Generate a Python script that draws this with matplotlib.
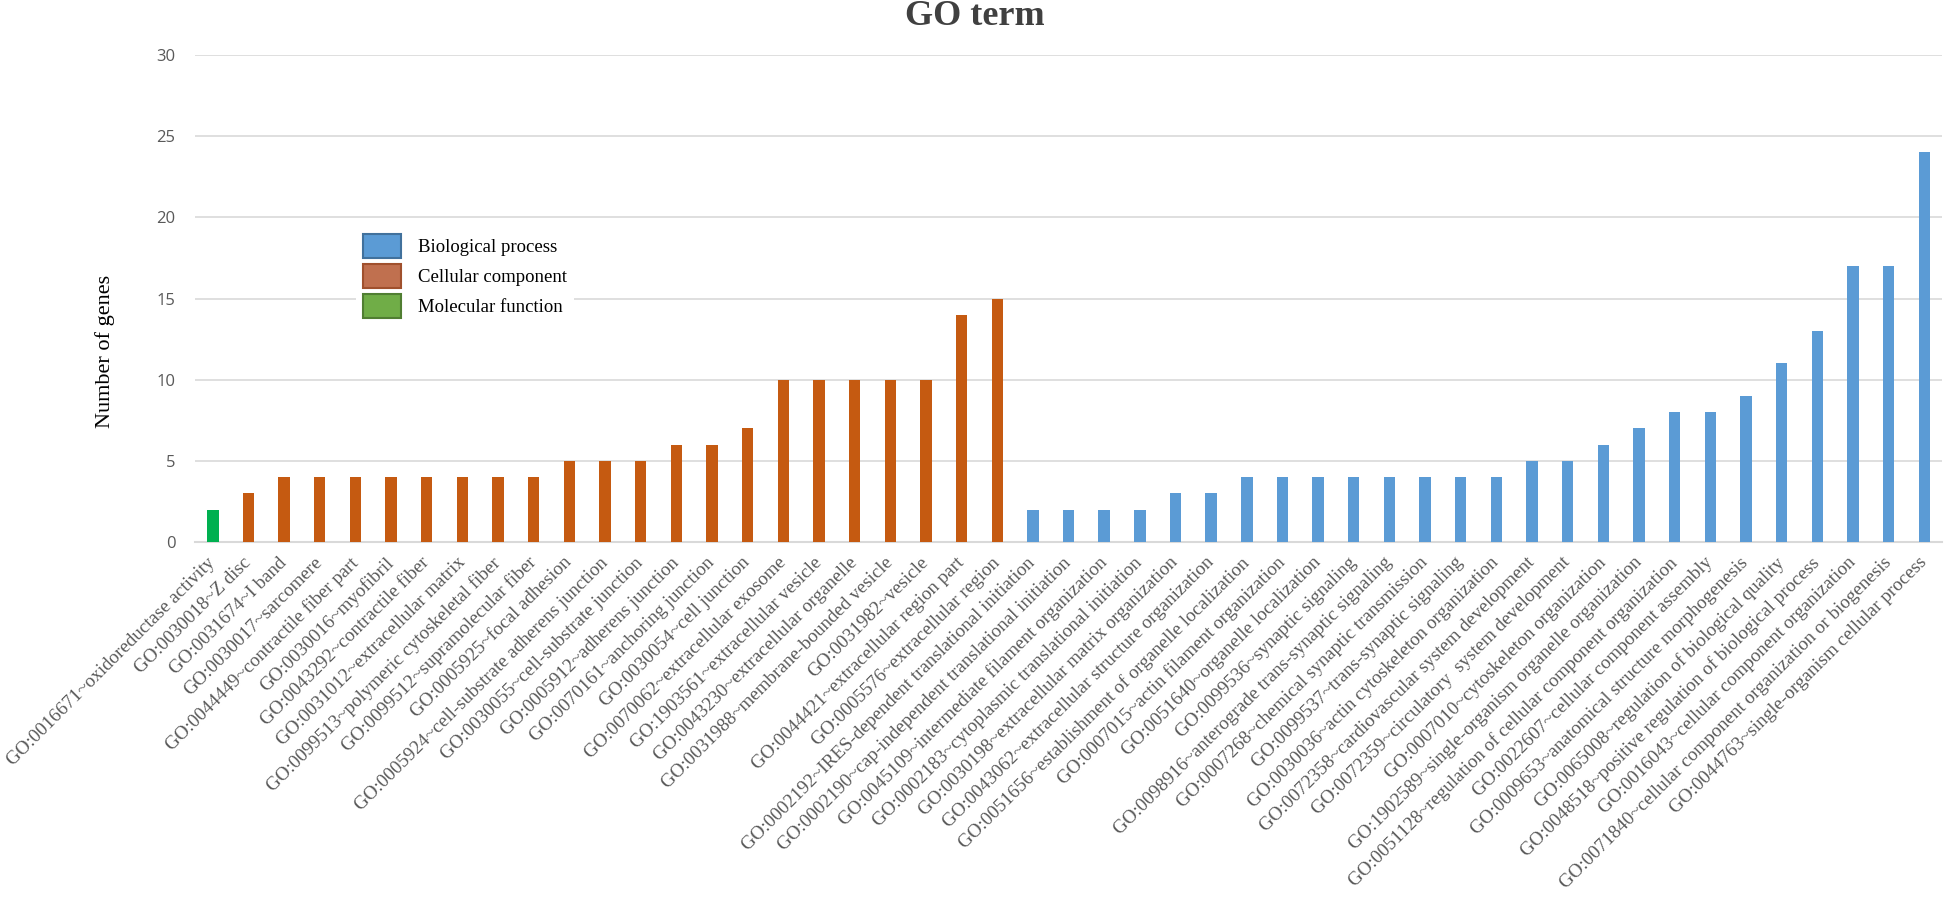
import matplotlib
matplotlib.use("Agg")
import matplotlib.pyplot as plt
from matplotlib.patches import Patch

# ---- data ----
mf_terms = ["GO:0016671~oxidoreductase activity"]
mf_counts = [2]

cc_terms = [
    "GO:0030018~Z disc",
    "GO:0031674~I band",
    "GO:0030017~sarcomere",
    "GO:0044449~contractile fiber part",
    "GO:0030016~myofibril",
    "GO:0043292~contractile fiber",
    "GO:0031012~extracellular matrix",
    "GO:0099513~polymeric cytoskeletal fiber",
    "GO:0099512~supramolecular fiber",
    "GO:0005925~focal adhesion",
    "GO:0005924~cell-substrate adherens junction",
    "GO:0030055~cell-substrate junction",
    "GO:0005912~adherens junction",
    "GO:0070161~anchoring junction",
    "GO:0030054~cell junction",
    "GO:0070062~extracellular exosome",
    "GO:1903561~extracellular vesicle",
    "GO:0043230~extracellular organelle",
    "GO:0031988~membrane-bounded vesicle",
    "GO:0031982~vesicle",
    "GO:0044421~extracellular region part",
    "GO:0005576~extracellular region",
]
cc_counts = [3, 4, 4, 4, 4, 4, 4, 4, 4, 5, 5, 5, 6, 6, 7, 10, 10, 10, 10, 10, 14, 15]

bp_terms = [
    "GO:0002192~IRES-dependent translational initiation",
    "GO:0002190~cap-independent translational initiation",
    "GO:0045109~intermediate filament organization",
    "GO:0002183~cytoplasmic translational initiation",
    "GO:0030198~extracellular matrix organization",
    "GO:0043062~extracellular structure organization",
    "GO:0051656~establishment of organelle localization",
    "GO:0007015~actin filament organization",
    "GO:0051640~organelle localization",
    "GO:0099536~synaptic signaling",
    "GO:0098916~anterograde trans-synaptic signaling",
    "GO:0007268~chemical synaptic transmission",
    "GO:0099537~trans-synaptic signaling",
    "GO:0030036~actin cytoskeleton organization",
    "GO:0072358~cardiovascular system development",
    "GO:0072359~circulatory  system development",
    "GO:0007010~cytoskeleton organization",
    "GO:1902589~single-organism organelle organization",
    "GO:0051128~regulation of cellular component organization",
    "GO:0022607~cellular component assembly",
    "GO:0009653~anatomical structure morphogenesis",
    "GO:0065008~regulation of biological quality",
    "GO:0048518~positive regulation of biological process",
    "GO:0016043~cellular component organization",
    "GO:0071840~cellular component organization or biogenesis",
    "GO:0044763~single-organism cellular process",
]
bp_counts = [2, 2, 2, 2, 3, 3, 4, 4, 4, 4, 4, 4, 4, 4, 5, 5, 6, 7, 8, 8, 9, 11, 13, 17, 17, 24]

y_ticks = [0, 5, 10, 15, 20, 25, 30]
legend_labels = ["Biological process", "Cellular component", "Molecular function"]

# ---- styles ----
c_mf, c_cc, c_bp = "#00B050", "#C55A11", "#5B9BD5"
serif = ["Liberation Serif", "DejaVu Serif"]

terms = mf_terms + cc_terms + bp_terms
counts = mf_counts + cc_counts + bp_counts
colors = [c_mf] * len(mf_terms) + [c_cc] * len(cc_terms) + [c_bp] * len(bp_terms)
x = list(range(len(terms)))

fig = plt.figure(figsize=(19.46, 9.01), dpi=100)
ax = fig.add_axes([0.1002, 0.3984, 0.8978, 0.5406])

ax.bar(x, counts, width=0.32, color=colors, zorder=3)

ax.set_xlim(-0.5, len(terms) - 0.5)
ax.set_ylim(0, 30)
ax.set_yticks(y_ticks)
ax.yaxis.grid(True, color="#D9D9D9", linewidth=1.2, zorder=0)
ax.set_axisbelow(True)
for s in ["left", "right", "top"]:
    ax.spines[s].set_visible(False)
ax.spines["bottom"].set_color("#D9D9D9")
ax.spines["bottom"].set_linewidth(1.5)
ax.tick_params(axis="both", length=0)
ax.tick_params(axis="y", pad=14)
for t in ax.get_yticklabels():
    t.set_fontfamily("Open Sans")
    t.set_fontsize(12)
    t.set_color("#595959")

ax.set_xticks(x)
ax.set_xticklabels(terms, rotation=45, ha="right", va="center",
                   rotation_mode="anchor", fontsize=13.7, color="#595959",
                   family=serif)
ax.tick_params(axis="x", pad=13)

ax.set_ylabel("Number of genes", fontsize=16, family=serif, color="black")
ax.yaxis.set_label_coords(-0.046, 0.392)

fig.text(0.501, 0.982, "GO term", ha="center", va="center", fontsize=26,
         fontweight="bold", family=serif, color="#404040")

handles = [
    Patch(facecolor="#5B9BD5", edgecolor="#41719C", linewidth=1.5),
    Patch(facecolor="#C0704F", edgecolor="#A0502D", linewidth=1.5),
    Patch(facecolor="#70AD47", edgecolor="#507E32", linewidth=1.5),
]
leg = ax.legend(handles, legend_labels, loc="upper left",
                bbox_to_anchor=(0.092, 0.648), frameon=True,
                prop={"family": serif, "size": 13.5},
                handlelength=2.0, handleheight=1.6, handletextpad=0.9,
                labelspacing=0.32, borderpad=0.4, borderaxespad=0)
leg.get_frame().set_facecolor("white")
leg.get_frame().set_edgecolor("none")
leg.get_frame().set_alpha(1.0)
leg.set_zorder(5)

fig.savefig("out.png", dpi=100, facecolor="white")
